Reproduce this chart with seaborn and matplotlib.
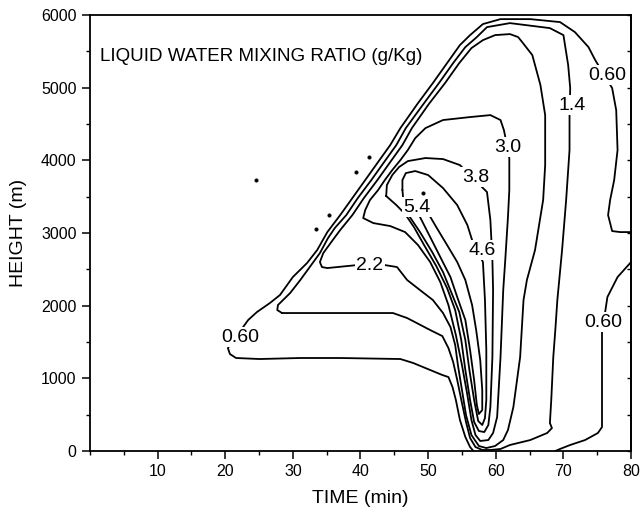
import matplotlib
matplotlib.use("Agg")
import matplotlib.pyplot as plt
import seaborn as sns
import pandas as pd
from matplotlib.ticker import MultipleLocator

# Liquid water mixing ratio isolines, (time [min], height [m]) vertices
Q060_MAIN = [(56.7, 0), (56.2, 55), (55.5, 193), (54.7, 427), (54.1, 702), (53.6, 881),
             (53.0, 1018), (52.1, 1046), (50.3, 1115), (47.8, 1211), (45.9, 1266), (37.0, 1280),
             (31.1, 1280), (25.1, 1266), (21.6, 1280), (20.7, 1335), (20.4, 1417), (23.4, 1803),
             (24.7, 1913), (26.6, 2036), (28.1, 2147), (30.0, 2394), (32.1, 2587), (33.6, 2766),
             (35.1, 3013), (37.0, 3247), (38.8, 3481), (40.7, 3729), (42.6, 3977), (44.4, 4211),
             (45.9, 4444), (48.4, 4775), (50.7, 5064), (52.8, 5339), (54.7, 5587), (56.2, 5724),
             (58.1, 5876), (60.7, 5944), (65.1, 5944), (69.5, 5903), (71.7, 5765), (73.7, 5559),
             (74.7, 5380), (77.2, 4995), (77.8, 4692), (78.0, 4142), (77.5, 3729), (76.9, 3454),
             (76.6, 3247), (77.2, 3027), (78.4, 3013), (80.0, 3013)]
Q060_EAST = [(80.0, 2601), (78.0, 2394), (76.5, 2119), (75.7, 1624), (75.7, 977), (75.7, 330),
             (75.1, 248), (73.2, 151), (71.0, 83), (69.5, 28), (68.8, 0)]
Q140 = [(28.4, 1899), (37.0, 1899), (44.8, 1899), (46.9, 1830), (50.3, 1665), (52.1, 1582),
        (53.0, 1417), (53.7, 1225), (54.3, 977), (55.0, 660), (55.6, 399), (56.2, 179),
        (57.0, 55), (58.0, 14), (59.2, 14), (60.7, 28), (62.1, 83), (65.1, 151), (67.6, 248),
        (68.3, 316), (68.0, 385), (68.2, 702), (68.5, 1293), (68.8, 1665), (69.1, 2078),
        (69.8, 2766), (70.4, 3454), (70.9, 4142), (70.9, 4623), (71.0, 4995), (70.7, 5311),
        (70.0, 5724), (68.0, 5820), (62.1, 5889), (58.7, 5834), (57.2, 5697), (55.5, 5559),
        (53.7, 5339), (51.6, 5064), (49.3, 4775), (46.7, 4444), (45.3, 4211), (43.5, 3977),
        (41.6, 3729), (39.6, 3481), (37.9, 3247), (36.2, 3068), (35.2, 2931), (34.0, 2724),
        (32.5, 2532), (31.1, 2353), (29.6, 2174), (27.8, 2009), (27.7, 1940), (28.4, 1899)]
Q220 = [(39.5, 2559), (35.1, 2518), (34.3, 2532), (34.0, 2601), (34.5, 2724), (35.9, 2903),
        (37.0, 3041), (38.8, 3247), (40.5, 3481), (42.5, 3729), (44.4, 3977), (46.2, 4211),
        (47.6, 4444), (50.1, 4775), (52.5, 5064), (54.6, 5339), (56.4, 5545), (58.1, 5655),
        (59.9, 5724), (62.1, 5738), (63.3, 5697), (63.9, 5628), (65.4, 5449), (66.6, 5036),
        (67.3, 4623), (67.3, 3935), (67.0, 3454), (65.8, 2766), (64.6, 2353), (64.1, 2078),
        (63.6, 1293), (62.6, 605), (61.8, 289), (61.1, 151), (59.9, 69), (58.6, 41),
        (57.5, 69), (56.4, 220), (55.6, 495), (55.0, 839), (54.4, 1183), (54.0, 1459),
        (53.3, 1706), (52.2, 1899), (50.7, 2078), (48.8, 2215), (46.9, 2353), (45.4, 2532),
        (43.6, 2559), (39.5, 2559)]
Q300 = [(61.5, 4279), (61.2, 4417), (60.7, 4555), (59.2, 4623), (56.2, 4596), (52.2, 4555),
        (49.6, 4444), (48.1, 4307), (47.0, 4142), (45.9, 4004), (44.7, 3867), (43.6, 3729),
        (42.6, 3591), (41.4, 3454), (40.7, 3316), (40.4, 3206), (41.9, 3137), (44.4, 3096),
        (46.6, 3013), (48.5, 2835), (50.3, 2601), (51.8, 2325), (53.0, 2009), (54.1, 1596),
        (55.0, 1183), (55.8, 771), (56.4, 427), (57.0, 220), (57.7, 138), (58.9, 151),
        (59.6, 248), (60.2, 468), (60.7, 1293), (61.1, 2215), (61.4, 2628), (61.8, 3220),
        (62.0, 3591), (62.0, 4032), (61.5, 4279)]
Q380 = [(43.8, 3509), (43.9, 3660), (44.7, 3798), (45.7, 3908), (47.0, 3990), (49.6, 4032),
        (52.2, 4018), (54.7, 3935), (58.7, 3564), (59.2, 3179), (59.5, 2628), (59.6, 2215),
        (59.5, 1293), (59.2, 605), (58.9, 358), (58.3, 261), (57.5, 275), (56.8, 399),
        (56.2, 702), (55.5, 1115), (54.9, 1527), (54.0, 1940), (52.8, 2243), (51.2, 2546),
        (49.4, 2835), (47.9, 3082), (46.6, 3261), (45.3, 3385), (43.8, 3509)]
Q460 = [(46.2, 3591), (46.2, 3729), (46.7, 3825), (48.1, 3853), (50.0, 3798), (52.2, 3619),
        (54.3, 3385), (55.8, 3110), (56.5, 2903), (58.1, 2601), (58.4, 2078), (58.6, 1390),
        (58.6, 702), (58.4, 454), (58.0, 358), (57.4, 413), (56.8, 702), (56.1, 1115),
        (55.5, 1527), (54.6, 1913), (53.4, 2188), (52.2, 2463), (50.6, 2738), (48.8, 3013),
        (47.3, 3220), (46.4, 3385), (46.2, 3591)]
Q540 = [(48.1, 3385), (48.8, 3220), (50.3, 2945), (51.8, 2669), (53.3, 2394), (54.3, 2119),
        (55.5, 1803), (56.2, 1390), (56.8, 977), (57.2, 633), (57.5, 509), (58.0, 564),
        (58.0, 839), (57.7, 1252), (57.1, 1665), (56.5, 2009), (55.5, 2353), (54.3, 2601),
        (52.8, 2835), (51.2, 3082), (49.9, 3289), (49.0, 3399), (48.1, 3385)]

# tiny isolated cells along the leading edge
CELL_TIME = [24.6, 41.3, 39.3, 35.4, 33.4, 49.3]
CELL_HEIGHT = [3729, 4045, 3839, 3247, 3055, 3550]

# inline isoline labels: text, time, height
LABEL_TEXT = ["0.60", "0.60", "0.60", "1.4", "2.2", "3.0", "3.8", "4.6", "5.4"]
LABEL_TIME = [22.2, 76.5, 75.9, 71.3, 41.4, 61.7, 57.0, 58.0, 48.4]
LABEL_HEIGHT = [1569, 5174, 1775, 4761, 2559, 4183, 3770, 2766, 3357]

X_TICKS = [10, 20, 30, 40, 50, 60, 70, 80]
Y_TICKS = [0, 1000, 2000, 3000, 4000, 5000, 6000]

sns.set_theme(style="ticks")
plt.rcParams['font.family'] = ['Liberation Sans', 'DejaVu Sans']
plt.rcParams.update({"text.color": "black", "axes.labelcolor": "black",
                     "xtick.color": "black", "ytick.color": "black",
                     "axes.edgecolor": "black"})

fig, ax = plt.subplots(figsize=(6.42, 5.19), dpi=100)
fig.subplots_adjust(left=0.140, right=0.983, bottom=0.131, top=0.971)

for line in [Q060_MAIN, Q060_EAST, Q140, Q220, Q300, Q380, Q460, Q540]:
    df = pd.DataFrame(line, columns=["time", "height"])
    sns.lineplot(data=df, x="time", y="height", sort=False, estimator=None,
                 color="black", linewidth=1.3, ax=ax)

sns.scatterplot(x=CELL_TIME, y=CELL_HEIGHT, s=7, color="black", edgecolor="black",
                legend=False, ax=ax, zorder=3)

for txt, t, h in zip(LABEL_TEXT, LABEL_TIME, LABEL_HEIGHT):
    ax.text(t, h, txt, ha="center", va="center", fontsize=14, color="black", zorder=5,
            bbox=dict(boxstyle="square,pad=0.08", fc="white", ec="none"))

ax.text(1.5, 5435, "LIQUID WATER MIXING RATIO (g/Kg)", ha="left", va="center",
        fontsize=13.5, color="black")

ax.set_xlim(0, 80)
ax.set_ylim(0, 6000)
ax.set_xticks(X_TICKS)
ax.set_yticks(Y_TICKS)
ax.xaxis.set_minor_locator(MultipleLocator(5))
ax.yaxis.set_minor_locator(MultipleLocator(500))
ax.tick_params(which="major", direction="out", length=6, width=1.1, labelsize=11.5,
               color="black", labelcolor="black")
ax.tick_params(which="minor", direction="out", length=3, width=1.0, color="black")

sec = ax.secondary_yaxis("right")
sec.yaxis.set_major_locator(MultipleLocator(500))
sec.tick_params(axis="y", direction="in", length=3, width=1.0, labelright=False)
sec.spines["right"].set_linewidth(1.3)

for sp in ax.spines.values():
    sp.set_linewidth(1.3)
    sp.set_color("black")

ax.set_xlabel("TIME (min)", fontsize=14, labelpad=8, color="black")
ax.set_ylabel("HEIGHT (m)", fontsize=14, labelpad=10, color="black")

fig.savefig("out.png", dpi=100, facecolor="white")
